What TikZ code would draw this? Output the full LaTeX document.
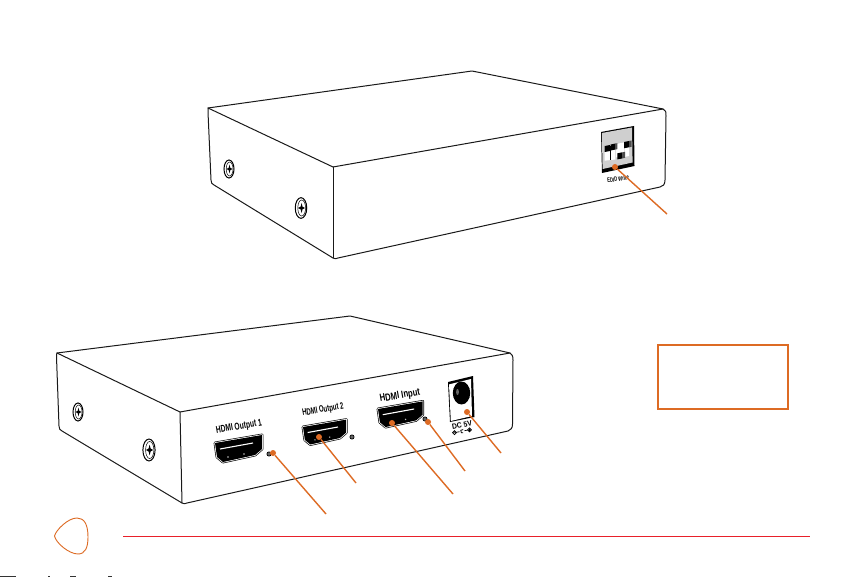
\documentclass[tikz,border=0pt]{standalone}
\usepackage{fontspec}
\setmainfont{Liberation Sans}
\usetikzlibrary{calc}
\definecolor{leader}{HTML}{DD6B24}
\definecolor{rulered}{HTML}{E8202A}
\definecolor{plate}{HTML}{CFCFCF}
\tikzset{
  x=1pt,y=-1pt,
  body/.style={draw=black!90,line width=1pt,line join=round,line cap=round,fill=white},
  edge/.style={draw=black!90,line width=1pt,line cap=round},
  leaderline/.style={draw=leader,line width=1.4pt},
  leaderdot/.style={circle,fill=leader,draw=none,inner sep=0pt,minimum size=6pt},
  portlabel/.style={inner sep=0pt,rotate=10},
  pics/hdmi/.style={code={
    \def\portpath{(0,0)--(47,-8)--(47,6)--(40,12)--(8,19)--(2,14)--cycle}
    \draw[black,line width=2.8pt,line join=round] \portpath;
    \draw[white,line width=1.5pt,line join=round] \portpath;
    \fill[black,line join=round] \portpath;
    \draw[white,line width=1.1pt] (5,6)--(38,0);
    \fill[white!75!black] (13,14) circle (0.8) (29,11) circle (0.8);
  }},
  pics/screw/.style={code={
    \draw[black,line width=1pt,fill=white] (0,0) ellipse (5 and 9);
    \draw[black,line width=0.5pt] (0.6,0) ellipse (3.4 and 7);
    \fill[black] (-2.6,0)--(-0.3,-1.2)--(0.5,-4.4)--(1.3,-1.2)--(3.4,0)--(1.3,1.2)--(0.5,4.4)--(-0.3,1.2)--cycle;
  }}
}
\begin{document}
\begin{tikzpicture}
\useasboundingbox (0,0) rectangle (865,577);
\fill[white] (0,0) rectangle (865,577);

% --- top device ---
\coordinate (tL) at (208,108);
\coordinate (tA) at (472,71);
\coordinate (tR) at (663,109);
\coordinate (tF) at (333,167);
\coordinate (tB) at (333,258);
\path[body] (tL)--(tA)--(tR)
  .. controls (666,110) and (666,112) .. (666,116)
  -- (665,180) .. controls (665,185) and (663,186) .. (660,187)
  -- (338,258) .. controls (336,259) and (335,259) .. (333,258)
  -- (214,185) .. controls (212,184) and (211,183) .. (211,180)
  -- (208,112) .. controls (208,110) and (208,109) .. (tL) -- cycle;
\draw[edge] (tL)--(tF)--(tR);
\draw[edge] (tF)--(tB);
\pic at (229,169) {screw};
\pic[scale=1.15] at (301,208) {screw};

% DIP switch
\fill[black] (601,132)--(634,126)--(634.5,166)--(602,173)--cycle;
\fill[plate] (601.8,133)--(632,127.5)--(632.6,162.5)--(602.6,169)--cycle;
\fill[white] (604.7,146)--(615.3,145)--(615.3,159.5)--(604.7,160.7)--cycle;
\draw[black,line width=0.5pt] (610,146)--(610,160.5);
\fill[white] (616,144)--(624,142.5)--(624,156)--(616,157.5)--cycle;
\fill[white] (624.5,142)--(629,141)--(629,156)--(624.5,157)--cycle;
\fill[black] (604.7,146)--(610,145)--(610,151)--(604.7,152)--cycle;
\fill[black] (610.7,144.5)--(615.5,143.5)--(615.5,149.5)--(610.7,150.5)--cycle;
\fill[black!70] (615.5,143.5)--(617.3,143.2)--(617.3,149.2)--(615.5,149.5)--cycle;
\fill[black] (617.3,153.3)--(622.5,152.3)--(622.5,158.4)--(617.3,159.4)--cycle;
\fill[black!70] (622.5,152.3)--(625,151.8)--(625,157.9)--(622.5,158.4)--cycle;
\fill[black] (624,142)--(629,141)--(629,147.3)--(624,148.3)--cycle;
\fill[black!70] (629,141)--(631.7,140.5)--(631.7,146.8)--(629,147.3)--cycle;
\node[font=\bfseries\fontsize{6.4}{7}\selectfont,inner sep=0pt,rotate=9,xscale=0.66] (edid) at (618,179) {EDID Write};

% --- bottom device ---
\coordinate (bL) at (57,353);
\coordinate (bA) at (350,316);
\coordinate (bR) at (510,353);
\coordinate (bF) at (180,412);
\coordinate (bB) at (182,503);
\path[body] (bL)--(bA)--(bR)
  .. controls (512,354) and (513,356) .. (513,360)
  -- (512.5,424) .. controls (512.5,428) and (511,430) .. (508,431)
  -- (187,503) .. controls (185,504) and (184,504) .. (182,503)
  -- (62,431) .. controls (60,430) and (59,429) .. (59,426)
  -- (56.5,357) .. controls (56.5,355) and (56.5,354) .. (bL) -- cycle;
\draw[edge] (bL)--(bF)--(bR);
\draw[edge] (bF)--(bB);
\pic at (78,412) {screw};
\pic[scale=1.22] at (149,450) {screw};

% HDMI ports and labels
\pic at (215,443) {hdmi};
\pic[scale=0.92] at (303,427) {hdmi};
\pic[scale=0.95] at (378,409) {hdmi};
\node[portlabel,font=\bfseries\fontsize{10}{11}\selectfont,xscale=0.665] (lbl1) at (239,427) {HDMI Output 1};
\node[portlabel,font=\bfseries\fontsize{9.4}{10}\selectfont,xscale=0.64] (lbl2) at (323,410) {HDMI Output 2};
\node[portlabel,font=\bfseries\fontsize{10.4}{11}\selectfont,xscale=0.74] (lbl3) at (400,396) {HDMI Input};

% LEDs
\filldraw[fill=black!60,draw=black,line width=0.7pt] (269,454) circle (2.1);
\filldraw[fill=black!60,draw=black,line width=0.7pt] (352,437) circle (2.1);
\filldraw[fill=black!60,draw=black,line width=0.7pt] (425,419) circle (2.1);

% DC jack
\fill[black] (448,382)--(473,376)--(474.5,417)--(450,422)--cycle;
\fill[white] (449,384.4)--(471,379)--(472,416)--(450.8,421)--cycle;
\fill[black] (461.5,393) ellipse (8.7 and 11.5);
\fill[black!60] (457.5,392) ellipse (1.4 and 3);
\node[font=\bfseries\fontsize{7.6}{8}\selectfont,inner sep=0pt,rotate=11,xscale=0.9] (dc) at (462,425) {DC 5V};
\draw[black,line width=0.8pt] (454.5,432.7) circle (1.9) (469.5,429.8) circle (1.9);
\draw[black,line width=0.7pt] (456.4,432.3)--(459.5,431.7) (464.5,430.7)--(467.6,430.1);
\draw[black,line width=0.8pt] (463.2,429.6) arc[start angle=60,end angle=300,x radius=1.8,y radius=-1.8];
\draw[black,line width=0.6pt] (453.3,432.9)--(455.7,432.5) (468.3,430)--(470.7,429.6) (469.5,428.7)--(469.5,430.9);

% leader lines
\node[leaderdot] (d0) at (615,167) {};
\coordinate (e0) at (667,214);
\draw[leaderline] (d0)--(e0);
\node[leaderdot] (d1) at (273,453) {};
\coordinate (e1) at (326,514);
\draw[leaderline] (d1)--(e1);
\node[leaderdot] (d2) at (319,437) {};
\coordinate (e2) at (356,483);
\draw[leaderline] (d2)--(e2);
\node[leaderdot] (d3) at (392,423) {};
\coordinate (e3) at (453,494);
\draw[leaderline] (d3)--(e3);
\node[leaderdot] (d4) at (428,422) {};
\coordinate (e4) at (465,471);
\draw[leaderline] (d4)--(e4);
\node[leaderdot] (d5) at (467,412) {};
\coordinate (e5) at (501,453);
\draw[leaderline] (d5)--(e5);

% empty call-out box
\draw[leader,line width=1.9pt] (658,345) rectangle (788,409);

% page footer
\draw[leader,line width=0.9pt,line join=round] (54.5,536)
  .. controls (56,530) and (68,518) .. (77,518)
  .. controls (84,518) and (88,524) .. (88,537)
  .. controls (88,548) and (85,554) .. (78,554)
  .. controls (69,554) and (56,543) .. (54.5,536) -- cycle;
\coordinate (ruleA) at (123,536);
\coordinate (ruleB) at (810,536);
\draw[rulered,line width=1pt] (ruleA)--(ruleB);

% clipped marks at the lower page edge
\fill[black!80] (0,576) rectangle (16,577);
\fill[black!80] (48,576) rectangle (50,577);
\fill[black!80] (70,576) rectangle (76,577);
\fill[black!80] (108,576) rectangle (112,577);
\end{tikzpicture}
\end{document}
